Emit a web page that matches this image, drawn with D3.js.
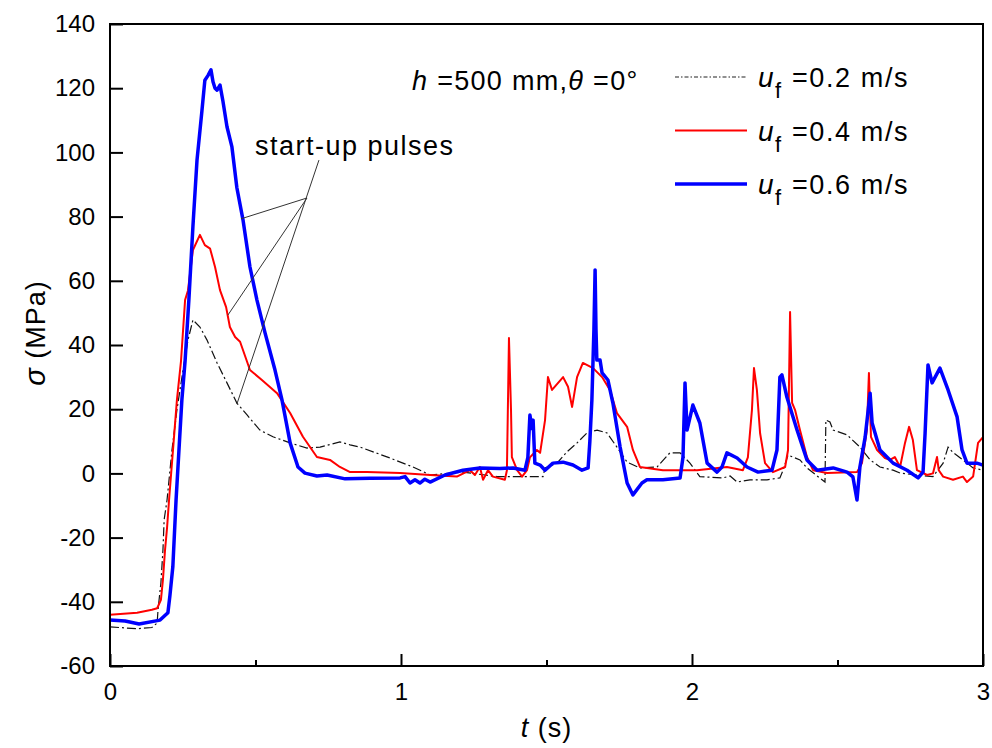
<!DOCTYPE html>
<html>
<head>
<meta charset="utf-8">
<script src="https://cdn.jsdelivr.net/npm/d3@7"></script>
<style>
  body { margin: 0; background: #fff; }
  text { font-family: "Liberation Sans", Arial, sans-serif; fill: #000; }
</style>
</head>
<body>
<div class="center"></div>
<script>
// series values: [t (s), sigma (MPa)]
const uf02 = [[0,-47.8],[0.093,-48.4],[0.144,-48],[0.162,-46.6],[0.165,-42.5],[0.175,-34],[0.182,-23.8],[0.186,-14.5],
  [0.196,-8.3],[0.213,7.3],[0.230,19.8],[0.251,32.2],[0.268,41.6],[0.285,47.8],[0.309,45.6],[0.333,41.6],[0.368,34.4],
  [0.402,28.2],[0.436,21.9],[0.471,18.2],[0.515,13.5],[0.560,11.4],[0.619,9.5],[0.677,7.9],[0.722,8.2],[0.790,9.8],
  [0.825,8.9],[0.859,8.2],[0.962,4.8],[1.041,2],[1.089,0],[1.100,-0.5],[1.213,0.4],[1.330,-1],[1.488,-1],[1.495,1.7],
  [1.536,3.2],[1.570,6.7],[1.605,9.5],[1.639,12.6],[1.674,13.5],[1.708,12.6],[1.742,8.2],[1.777,3.5],[1.821,1.7],
  [1.880,2],[1.924,6.4],[1.959,6.4],[1.993,3.2],[2.027,-1],[2.107,-1.4],[2.131,-0.8],[2.155,-2.7],[2.199,-2],
  [2.258,-2],[2.302,-1.4],[2.313,1],[2.330,5.7],[2.371,4.2],[2.395,1.7],[2.457,-2.7],[2.460,16.6],[2.474,16],
  [2.485,13.5],[2.533,12],[2.577,8.2],[2.612,4.2],[2.646,2],[2.691,1],[2.715,0.1],[2.773,-0.5],[2.828,-1],
  [2.863,3.2],[2.880,8.2],[2.897,6.5],[2.931,4.2],[2.966,1.7],[3.0,1]];

const uf04 = [[0,-44],[0.093,-43.4],[0.144,-42.5],[0.162,-42],[0.175,-39.4],[0.182,-33],[0.189,-24],[0.196,-17],
  [0.203,-8.2],[0.230,22.9],[0.244,35],[0.258,54],[0.268,57],[0.285,69.6],[0.309,74.3],[0.326,71.1],[0.344,70],
  [0.361,64.3],[0.378,57.1],[0.399,51.8],[0.412,45.6],[0.430,42.5],[0.447,41],[0.481,32.2],[0.522,29.1],[0.574,25],
  [0.619,18.8],[0.663,11.4],[0.711,5.1],[0.756,4.2],[0.790,2],[0.825,0.4],[0.883,0.4],[0.997,0.1],[1.100,-0.5],
  [1.192,-1],[1.237,1],[1.254,-0.5],[1.271,2],[1.282,-2],[1.299,1],[1.316,-1],[1.357,-2],[1.364,1],[1.371,42.2],
  [1.378,20],[1.381,5.1],[1.399,1],[1.416,-1],[1.433,1],[1.443,5],[1.467,7.3],[1.478,6.4],[1.495,16.6],[1.505,30],
  [1.519,26],[1.557,30],[1.574,27],[1.588,20.7],[1.605,30],[1.625,34.4],[1.660,32.8],[1.691,30],[1.718,26],
  [1.742,18.8],[1.777,14.5],[1.797,7.3],[1.821,2],[1.900,1],[2.017,1],[2.120,2],[2.175,1],[2.192,5],[2.206,19.8],
  [2.213,32.8],[2.223,26],[2.234,12.5],[2.251,3.2],[2.278,0.4],[2.320,2],[2.330,7.3],[2.337,50.3],[2.344,22],
  [2.354,19.8],[2.371,13.5],[2.395,5.1],[2.416,1],[2.464,0.1],[2.567,0.4],[2.584,3.2],[2.601,13.5],[2.608,31.3],
  [2.615,11.4],[2.636,7.3],[2.663,4.8],[2.680,4.2],[2.697,5.1],[2.715,2],[2.732,9.5],[2.746,14.5],[2.759,10.4],
  [2.773,1],[2.808,-0.5],[2.828,0],[2.842,5.1],[2.848,1],[2.863,-1],[2.897,-2],[2.931,-1],[2.945,-2.7],[2.966,-1],
  [2.983,9.5],[3.0,11.3]];

const uf06 = [[0,-45.7],[0.052,-46],[0.100,-46.9],[0.172,-45.7],[0.199,-43.4],[0.206,-38],[0.216,-29],[0.227,-8.3],
  [0.247,22.9],[0.258,35],[0.271,54],[0.285,77],[0.299,97.6],[0.316,113],[0.326,122.5],[0.337,124],[0.347,125.7],
  [0.354,122],[0.361,120],[0.368,119.4],[0.378,121],[0.388,116],[0.402,108],[0.419,101.7],[0.436,89],[0.457,79],
  [0.481,64.3],[0.505,54],[0.533,43.7],[0.567,32.2],[0.591,22.9],[0.619,9.5],[0.646,2],[0.670,0.1],[0.711,-0.8],
  [0.746,-0.5],[0.808,-1.7],[0.893,-1.5],[0.997,-1.4],[1.014,-1],[1.031,-3],[1.048,-2],[1.065,-3],[1.082,-1.8],
  [1.100,-2.7],[1.151,-0.5],[1.213,1],[1.271,1.7],[1.340,1.5],[1.385,1.7],[1.426,1],[1.436,5],[1.443,18.2],
  [1.450,14],[1.454,16.6],[1.460,3.2],[1.478,2.6],[1.495,1],[1.522,3.2],[1.557,3.5],[1.591,2.6],[1.622,1],
  [1.643,1.7],[1.649,10],[1.656,22.9],[1.663,45],[1.667,63.4],[1.670,45],[1.673,35.3],[1.684,35.3],[1.691,31.3],
  [1.711,29.1],[1.728,22],[1.753,8.2],[1.777,-3],[1.797,-6.7],[1.828,-3],[1.845,-2],[1.900,-2],[1.959,-1.4],
  [1.969,5],[1.976,28.2],[1.983,13.5],[2.003,21.3],[2.027,15.7],[2.052,3.2],[2.086,0.4],[2.103,2],[2.120,6.4],
  [2.155,4.8],[2.189,2],[2.227,0.4],[2.275,1],[2.292,7.3],[2.302,30],[2.309,30.7],[2.326,23.8],[2.361,13.5],
  [2.395,4.2],[2.430,1],[2.485,1.7],[2.533,0.4],[2.553,-1.1],[2.567,-8.3],[2.577,2],[2.595,11.3],[2.612,25],
  [2.619,15.7],[2.646,7.3],[2.691,3.2],[2.739,1],[2.777,-1.4],[2.794,0.4],[2.801,12.5],[2.811,33.8],[2.825,28.2],
  [2.852,32.8],[2.880,26],[2.911,17.6],[2.928,7.3],[2.945,3.2],[2.979,3.2],[3.0,2.6]];

const xTicks = [0, 1, 2, 3];
const xMinorTicks = [0.5, 1.5, 2.5];
const yTicks = [-60, -40, -20, 0, 20, 40, 60, 80, 100, 120, 140];
const legendLabels = ["=0.2 m/s", "=0.4 m/s", "=0.6 m/s"];

// annotation lines, data coords: from curve to the label
const pulseLines = [[[0.450, 79.3], [0.677, 85.8]], [[0.405, 49.3], [0.677, 85.8]], [[0.436, 21.6], [0.718, 97.6]]];

const W = 992, H = 748;
const margin = {top: 24, right: 9, bottom: 82, left: 110};
const width = W - margin.left - margin.right;
const height = H - margin.top - margin.bottom;

const xScale = d3.scaleLinear().domain([0, 3]).range([0, width]);
const yScale = d3.scaleLinear().domain([-60, 140]).range([height, 0]);

const svg = d3.select(".center").append("svg")
    .attr("width", W)
    .attr("height", H)
  .append("g")
    .attr("transform", `translate(${margin.left},${margin.top})`);

const line = d3.line()
    .x(d => xScale(d[0]))
    .y(d => yScale(d[1]));

// curves
svg.append("path").datum(uf02)
    .attr("d", line).attr("fill", "none")
    .attr("stroke", "#111").attr("stroke-width", 1.2)
    .attr("stroke-dasharray", "9,3,2,3");
svg.append("path").datum(uf04)
    .attr("d", line).attr("fill", "none")
    .attr("stroke", "#ff0000").attr("stroke-width", 2)
    .attr("stroke-linejoin", "round");
svg.append("path").datum(uf06)
    .attr("d", line).attr("fill", "none")
    .attr("stroke", "#0000ff").attr("stroke-width", 3.5)
    .attr("stroke-linejoin", "round");

// annotation
svg.selectAll(".pulse")
    .data(pulseLines)
    .enter().append("line")
    .attr("x1", d => xScale(d[0][0])).attr("y1", d => yScale(d[0][1]))
    .attr("x2", d => xScale(d[1][0])).attr("y2", d => yScale(d[1][1]))
    .attr("stroke", "#333").attr("stroke-width", 1);

svg.append("text")
   .attr("x", 145).attr("y", 131)
   .style("font-size", "27px")
   .style("letter-spacing", "1.5px")
   .text("start-up pulses");

// axes (plain hyphen for negative labels)
const yAxis = d3.axisLeft(yScale)
    .tickValues(yTicks).tickFormat(d => String(d))
    .tickSizeInner(-13).tickSizeOuter(0).tickPadding(15);
svg.append("g")
   .attr("class", "yaxis")
   .call(yAxis);

const xAxis = d3.axisBottom(xScale)
    .tickValues(xTicks).tickFormat(d => String(d))
    .tickSizeInner(-12).tickSizeOuter(0).tickPadding(17);
svg.append("g")
   .attr("class", "xaxis")
   .attr("transform", `translate(0,${height})`)
   .call(xAxis);

svg.append("g")
   .attr("transform", `translate(0,${height})`)
   .call(d3.axisBottom(xScale).tickValues(xMinorTicks).tickFormat("").tickSizeInner(-6).tickSizeOuter(0))
   .select(".domain").remove();

svg.selectAll(".tick line").attr("stroke", "#000").attr("stroke-width", 2);
svg.selectAll(".yaxis text, .xaxis text")
   .style("font-family", "Liberation Sans, Arial, sans-serif")
   .style("font-size", "24px");

// frame
svg.append("rect")
   .attr("x", 0).attr("y", 0)
   .attr("width", width).attr("height", height)
   .attr("fill", "none").attr("stroke", "#000").attr("stroke-width", 2);

// axis titles
const yt = svg.append("text")
   .attr("transform", `translate(${-65},${height / 2 - 12}) rotate(-90)`)
   .style("text-anchor", "middle")
   .style("font-size", "27px")
   .style("letter-spacing", "1px");
yt.append("tspan").style("font-style", "italic").style("font-size", "29px").text("σ");
yt.append("tspan").text(" (MPa)");

const xt = svg.append("text")
   .attr("x", width / 2).attr("y", height + 71)
   .style("text-anchor", "middle")
   .style("font-size", "27px")
   .style("letter-spacing", "1px");
xt.append("tspan").style("font-style", "italic").text("t");
xt.append("tspan").text(" (s)");

// condition label
const cond = svg.append("text")
   .attr("x", 302).attr("y", 66)
   .style("font-size", "27px")
   .style("letter-spacing", "1.3px");
cond.append("tspan").style("font-style", "italic").text("h");
cond.append("tspan").text(" =500 mm,");
cond.append("tspan").style("font-style", "italic").text("θ");
cond.append("tspan").text(" =0°");

// legend
const legendStyles = [
  {stroke: "#222", width: 1.1, dash: "4,2,1.5,2"},
  {stroke: "#ff0000", width: 2, dash: null},
  {stroke: "#0000ff", width: 3.5, dash: null}
];
const legend = svg.selectAll(".legend")
   .data(legendLabels)
   .enter().append("g")
   .attr("transform", (d, i) => `translate(565,${53 + i * 53.5})`);

legend.append("line")
   .attr("x1", 0).attr("x2", 72)
   .attr("y1", 0).attr("y2", 0)
   .attr("stroke", (d, i) => legendStyles[i].stroke)
   .attr("stroke-width", (d, i) => legendStyles[i].width)
   .attr("stroke-dasharray", (d, i) => legendStyles[i].dash);

legend.append("text")
   .attr("x", 83).attr("y", 10)
   .style("font-size", "28px").style("font-style", "italic")
   .text("u");
legend.append("text")
   .attr("x", 100).attr("y", 21)
   .style("font-size", "22px")
   .text("f");
legend.append("text")
   .attr("x", 117).attr("y", 10)
   .style("font-size", "27px")
   .style("letter-spacing", "1.6px")
   .text(d => d);
</script>
</body>
</html>
